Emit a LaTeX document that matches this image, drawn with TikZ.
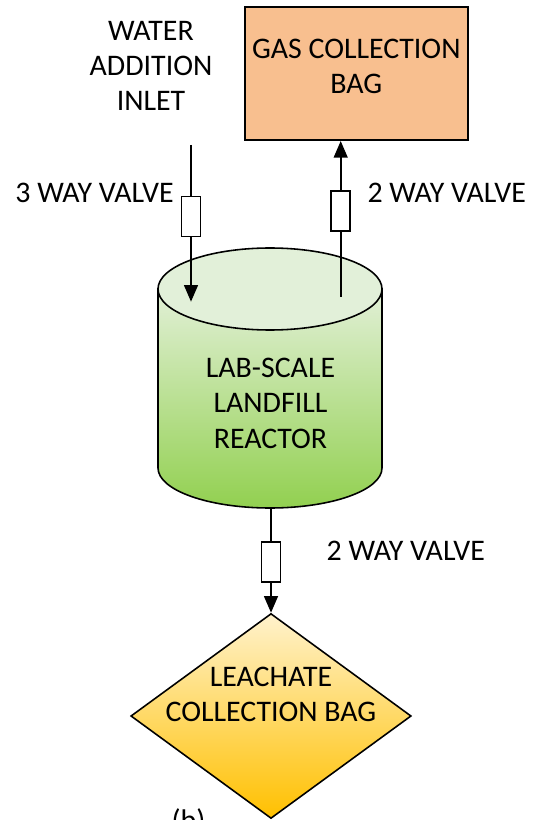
\documentclass[tikz,border=0pt]{standalone}
\usepackage{fontspec}
\setmainfont{Carlito}
\usepackage{xcolor}
\usepackage{tikz}
\usetikzlibrary{shapes.geometric,arrows.meta}
\definecolor{gasfill}{RGB}{248,191,143}
\definecolor{reactorcap}{RGB}{226,240,217}
\definecolor{reactortop}{RGB}{226,240,215}
\definecolor{reactorbot}{RGB}{146,208,80}
\definecolor{leachtop}{RGB}{255,242,204}
\definecolor{leachbot}{RGB}{255,192,0}
\tikzstyle{bag} = [rectangle, minimum width=4.45cm, minimum height=2.67cm, draw=black, line width=1.1pt, fill=gasfill]
\tikzstyle{valve} = [rectangle, minimum width=0.38cm, minimum height=0.8cm, inner sep=0pt, draw=black, line width=1pt, fill=white]
\tikzstyle{leach} = [diamond, minimum width=5.61cm, minimum height=4.1cm, inner sep=0pt, draw=black, line width=0.9pt, top color=leachtop, bottom color=leachbot]
\tikzstyle{label} = [anchor=base, inner sep=0pt, align=center]
\tikzstyle{line} = [line width=1.1pt]
\tikzstyle{arrow} = [line width=1.1pt, -{Triangle[width=7.8pt,length=9.4pt]}]

\begin{document}
\begin{tikzpicture}[x=0.02cm, y=0.02cm, font=\fontsize{17}{20.1}\selectfont]
    \useasboundingbox (0,0) rectangle (534,-820);
    \clip (0,0) rectangle (534,-820);

    % Reactor body
    \shade [draw, line width=0.9pt, top color=reactortop, bottom color=reactorbot]
        (158,-289) -- (158,-468) arc[start angle=180, end angle=360, x radius=112, y radius=40] -- (382,-289) -- cycle;
    \filldraw [fill=reactorcap, line width=0.9pt] (270,-289) ellipse [x radius=112, y radius=41];

    % Nodes
    \node (gasbag) [bag] at (356.3,-73.3) {};
    \node (gastext) [label] at (356.3,-94) {GAS COLLECTION\\BAG};
    \node (water) [label] at (151,-111) {WATER\\ADDITION\\INLET};
    \node (reactor) [label] at (270.5,-448.3) {LAB-SCALE\\LANDFILL\\REACTOR};
    \node (leachbag) [leach] at (271,-716) {};
    \node (leachtext) [label] at (271,-721.5) {LEACHATE\\COLLECTION BAG};
    \node (valvewater) [valve] at (191,-216.5) {};
    \node (valvegas) [valve] at (340.7,-211) {};
    \node (valveleach) [valve] at (271,-561.7) {};
    \node (valvea) [label] at (94.5,-203) {3 WAY VALVE};
    \node (valveb) [label] at (446.7,-202.7) {2 WAY VALVE};
    \node (valvec) [label] at (405.8,-560.7) {2 WAY VALVE};
    \node (caption) [label] at (188.5,-830) {(b)};
    \coordinate (inlettop) at (191,-145);
    \coordinate (inletend) at (191,-301.7);
    \coordinate (gasstart) at (340.7,-296.7);
    \coordinate (drain) at (271,-508);

    % Arrows
    \draw [line] (inlettop) -- (valvewater);
    \draw [arrow] (valvewater) -- (inletend);
    \draw [line] (gasstart) -- (valvegas);
    \draw [arrow] (valvegas) -- (valvegas |- gasbag.south);
    \draw [line] (drain) -- (valveleach);
    \draw [arrow] (valveleach) -- (leachbag.north);
\end{tikzpicture}
\end{document}
